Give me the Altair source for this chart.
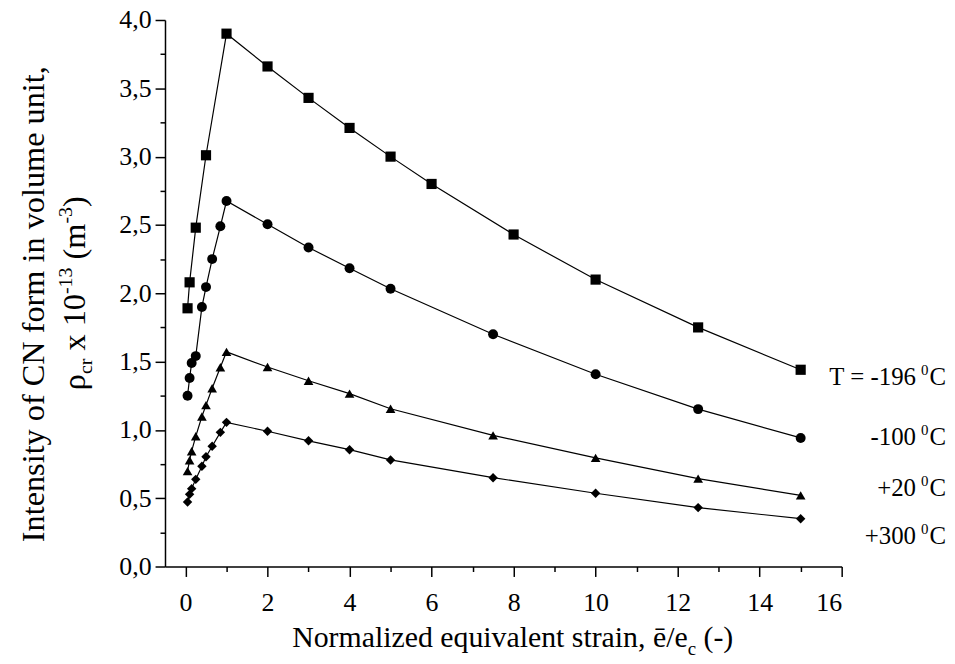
import altair as alt
import pandas as pd

# ---------------- data ----------------
strain_sq = [0.05, 0.1, 0.25, 0.5, 1, 2, 3, 4, 5, 6, 8, 10, 12.5, 15]
rho_m196 = [1.89, 2.08, 2.48, 3.01, 3.90, 3.66, 3.43, 3.21, 3.00, 2.80, 2.43, 2.10, 1.75, 1.44]

strain_fine = [0.05, 0.1, 0.15, 0.25, 0.4, 0.5, 0.65, 0.85, 1, 2, 3, 4, 5, 7.5, 10, 12.5, 15]
rho_m100 = [1.25, 1.38, 1.49, 1.54, 1.90, 2.045, 2.25, 2.49, 2.675, 2.505, 2.335, 2.183, 2.033, 1.70, 1.407, 1.152, 0.941]
rho_p20 = [0.698, 0.778, 0.844, 0.953, 1.098, 1.181, 1.305, 1.458, 1.571, 1.46, 1.36, 1.265, 1.155, 0.96, 0.795, 0.643, 0.521]
rho_p300 = [0.472, 0.528, 0.570, 0.638, 0.734, 0.803, 0.880, 0.982, 1.055, 0.99, 0.92, 0.855, 0.78, 0.65, 0.536, 0.431, 0.35]

series_names = ["-196", "-100", "+20", "+300"]
label_main = ["T = -196", "-100", "+20", "+300"]
shapes = ["square", "circle", "triangle-up", "diamond"]
sizes = [105, 90, 190, 165]

x_ticks = list(range(0, 17))
y_ticks = [i * 0.25 for i in range(0, 17)]

rows = []
for name, xs, ys in zip(series_names,
                        [strain_sq, strain_fine, strain_fine, strain_fine],
                        [rho_m196, rho_m100, rho_p20, rho_p300]):
    for xv, yv in zip(xs, ys):
        rows.append({"strain": xv, "rho": yv, "series": name})
df = pd.DataFrame(rows)

FONT = "'Liberation Serif', 'Times New Roman', 'DejaVu Serif', serif"
W, H = 681, 550

# Times / Liberation Serif advance widths (per 1000 em) for layout of composed titles
ADV = {" ": 250, "(": 333, ")": 333, "-": 333, ",": 250, "/": 278, "0": 500, "1": 500,
       "3": 500, "x": 500, "m": 778, "c": 444, "r": 333, "ρ": 500, "C": 667}


def tw(s, size):
    return sum(ADV.get(ch, 500) for ch in s) * size / 1000.0


def txt(s, x, y, size, align="left", angle=0, dx=0, dy=0):
    return alt.Chart(pd.DataFrame({"t": [s]})).mark_text(
        align=align, baseline="alphabetic", font=FONT, fontSize=size, color="black",
        angle=angle, dx=dx, dy=dy
    ).encode(text="t:N", x=alt.value(x), y=alt.value(y))


x_enc = alt.X("strain:Q",
              scale=alt.Scale(domain=[-0.5, 16], nice=False, zero=False),
              axis=alt.Axis(values=x_ticks, format="d", title=None,
                            labelExpr="datum.value % 2 === 0 ? datum.label : ''",
                            tickSize={"condition": {"test": "datum.value % 2 === 0", "value": 10}, "value": 5},
                            labelPadding=13))
y_enc = alt.Y("rho:Q",
              scale=alt.Scale(domain=[0, 4], nice=False, zero=True),
              axis=alt.Axis(values=y_ticks, title=None,
                            labelExpr="datum.value % 0.5 === 0 ? replace(format(datum.value, '.1f'), '.', ',') : ''",
                            tickSize={"condition": {"test": "datum.value % 0.5 === 0", "value": 10}, "value": 5},
                            labelPadding=4))

lines = alt.Chart(df).mark_line(color="black", strokeWidth=1.2).encode(
    x=x_enc, y=y_enc, detail="series:N")

points = alt.Chart(df).mark_point(filled=True, color="black", opacity=1).encode(
    x=x_enc, y=y_enc,
    shape=alt.Shape("series:N", scale=alt.Scale(domain=series_names, range=shapes), legend=None),
    size=alt.Size("series:N", scale=alt.Scale(domain=series_names, range=sizes), legend=None))

layers = [lines, points]

# ---- series labels at right: main + superscript 0 + C ----
LBL = 25
SUP = 15
label_base = [367, 428, 479, 527]   # baselines, plot coords
x_end = 786
for main, yb in zip(label_main, label_base):
    wc = tw("C", LBL)
    layers.append(txt("C", x_end, yb, LBL, align="right"))
    layers.append(txt("0", x_end - wc - 1, yb - 10, SUP, align="right"))
    layers.append(txt(main, x_end - wc - 1 - tw("0", SUP) - 5, yb, LBL, align="right"))

# ---- x title: "Normalized equivalent strain, ē/e" + sub c + " (-)" ----
TT = 30
SUB = 19
px, py = 526, 631
layers.append(txt("Normalized equivalent strain, ē/e", px, py, TT, align="right"))
layers.append(txt("c", px, py + 8, SUB, align="left"))
layers.append(txt("(-)", px + tw("c", SUB) + tw(" ", TT), py, TT, align="left"))

# ---- y title line 1 ----
YT = 32.5
YS = 20
layers.append(txt("Intensity of CN form in volume unit,", -122, H / 2 + 11, YT, align="center", angle=270))

# ---- y title line 2: ρ_cr x 10^-13 (m^-3), rotated ----
pieces = [("ρ", YT, 0), ("cr", YS, 8), (" x 10", YT, 0), ("-13", YS, -13),
          (" (m", YT, 0), ("-3", YS, -13), (")", YT, 0)]
total = sum(tw(s, sz) for s, sz, _ in pieces)
ax_, ay_ = -81, H / 2 + total / 2
off = 0.0
for s, sz, d in pieces:
    lead = tw(" ", sz) if s.startswith(" ") else 0.0
    layers.append(txt(s.strip(), ax_, ay_, sz, align="left", angle=270, dx=off + lead, dy=d))
    off += tw(s, sz)

chart = alt.layer(*layers).properties(
    width=W, height=H,
    autosize=alt.AutoSizeParams(type="none"),
    padding={"left": 158, "top": 10, "right": 106, "bottom": 90},
    background="white",
).configure_view(stroke=None).configure_axis(
    domainColor="black", domainWidth=1.5, tickColor="black", tickWidth=1.5,
    labelFont=FONT, labelFontSize=26, labelColor="black", grid=False,
)

chart.save("out.html", embed_options={"renderer": "svg", "actions": False})
